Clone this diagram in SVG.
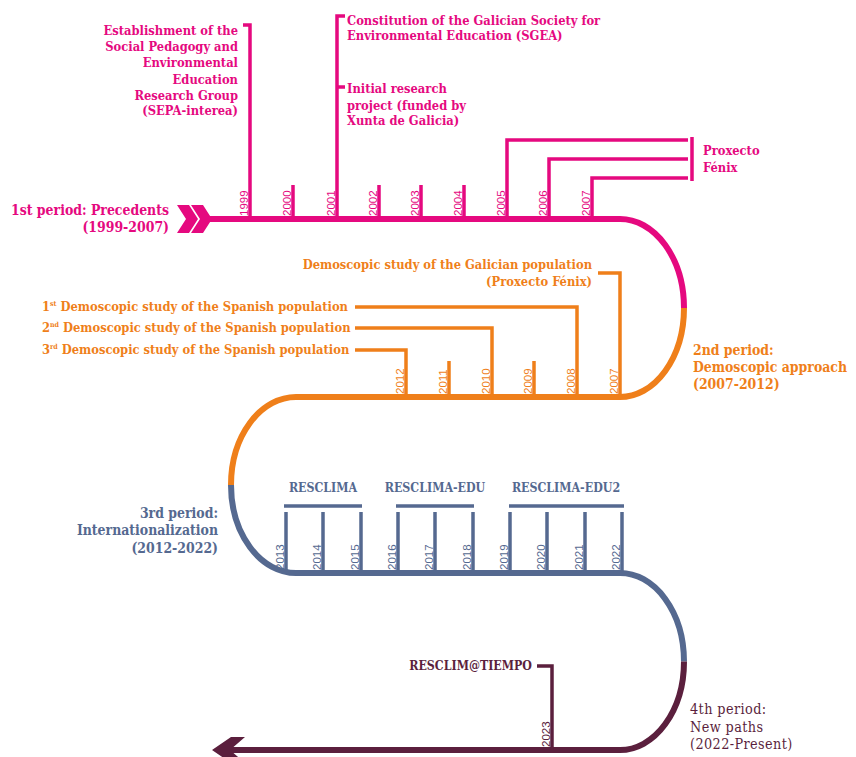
<svg xmlns="http://www.w3.org/2000/svg" width="856" height="757" viewBox="0 0 856 757">
<style>
.t{font-family:"DejaVu Serif Condensed","DejaVu Serif",serif;font-weight:bold;font-stretch:condensed;font-size:12.8px}
.pl{font-family:"DejaVu Serif Condensed","DejaVu Serif",serif;font-weight:bold;font-stretch:condensed;font-size:13.9px}
.pr{font-family:"DejaVu Serif Condensed","DejaVu Serif",serif;font-weight:bold;font-stretch:condensed;font-size:12.3px}
.yr{font-family:"Liberation Sans",Arial,sans-serif;font-size:11.5px}
.e{text-anchor:end}
.fp{fill:#E5097F}.fo{fill:#EF7F1A}.fb{fill:#556990}.fm{fill:#5B1F3D}
.main{fill:none;stroke-width:6}
.ld{fill:none;stroke-width:3.5}
.sp{stroke:#E5097F}.so{stroke:#EF7F1A}.sb{stroke:#556990}.sm{stroke:#5B1F3D}
</style>
<g id="connectors">
<path class="main sp" d="M205,219 H620 A64,89 0 0 1 684,308"/>
<path class="main so" d="M684,308 A64,89 0 0 1 620,397 H296 A65,88 0 0 0 231,485"/>
<path class="main sb" d="M231,485 A65,88 0 0 0 296,573 H620 A64,88.5 0 0 1 684,661.5"/>
<path class="main sm" d="M684,661.5 A64,88.5 0 0 1 620,750 H230"/>
<polygon class="fp" points="177,205 189,205 198,219 189,233 177,233 186,219"/>
<polygon class="fp" points="191,205 203,205 212,219 203,233 191,233 200,219"/>
<polygon class="fm" points="212,750 231,737 245,737 230,750 245,763 231,763"/>
</g>
<g id="period1">
<text class="pl fp e" x="169" y="215">1st period: Precedents</text>
<text class="pl fp e" x="169" y="232">(1999-2007)</text>
</g>
<g id="ticks1">
<path class="ld sp" d="M293,185 V219 M379,185 V219 M421,185 V219 M464,185 V219"/>
<g class="yr fp">
<text transform="translate(248,216) rotate(-90)">1999</text>
<text transform="translate(291,216) rotate(-90)">2000</text>
<text transform="translate(335,216) rotate(-90)">2001</text>
<text transform="translate(377,216) rotate(-90)">2002</text>
<text transform="translate(419,216) rotate(-90)">2003</text>
<text transform="translate(462,216) rotate(-90)">2004</text>
<text transform="translate(505,216) rotate(-90)">2005</text>
<text transform="translate(547,216) rotate(-90)">2006</text>
<text transform="translate(590,216) rotate(-90)">2007</text>
</g>
</g>
<g id="sepa">
<path class="ld sp" d="M243,25 H250 V219"/>
<text class="t fp e" x="238"><tspan x="238" y="35">Establishment of the</tspan><tspan x="238" y="51">Social Pedagogy and</tspan><tspan x="238" y="67">Environmental</tspan><tspan x="238" y="83.5">Education</tspan><tspan x="238" y="99.5">Research Group</tspan><tspan x="238" y="115">(SEPA-interea)</tspan></text>
</g>
<g id="sgea">
<path class="ld sp" d="M345,16 H337 V219 M337,87 H345"/>
<text class="t fp" x="347"><tspan x="347" y="24.5">Constitution of the Galician Society for</tspan><tspan x="347" y="40">Environmental Education (SGEA)</tspan></text>
<text class="t fp" x="347"><tspan x="347" y="93">Initial research</tspan><tspan x="347" y="109.5">project (funded by</tspan><tspan x="347" y="125">Xunta de Galicia)</tspan></text>
</g>
<g id="fenix">
<path class="ld sp" d="M507,219 V140 H688 M549,219 V159 H688 M592,219 V178 H688 M692,137 V181"/>
<text class="t fp"><tspan x="703" y="155">Proxecto</tspan><tspan x="703" y="171.5">Fénix</tspan></text>
</g>
<g id="period2">
<text class="pl fo"><tspan x="693" y="355">2nd period:</tspan><tspan x="693" y="372">Demoscopic approach</tspan><tspan x="693" y="389">(2007-2012)</tspan></text>
</g>
<g id="ticks2">
<path class="ld so" d="M534,397 V361 M449,397 V361"/>
<g class="yr fo">
<text transform="translate(404,394) rotate(-90)">2012</text>
<text transform="translate(447,394) rotate(-90)">2011</text>
<text transform="translate(490,394) rotate(-90)">2010</text>
<text transform="translate(532,394) rotate(-90)">2009</text>
<text transform="translate(575,394) rotate(-90)">2008</text>
<text transform="translate(618,394) rotate(-90)">2007</text>
</g>
</g>
<g id="galician">
<path class="ld so" d="M620,397 V273 H598"/>
<text class="t fo e"><tspan x="592" y="269">Demoscopic study of the Galician population</tspan><tspan x="592" y="286">(Proxecto Fénix)</tspan></text>
</g>
<g id="spanish1">
<path class="ld so" d="M577,397 V307 H355"/>
<text class="t fo" x="42" y="311">1<tspan font-size="7" dy="-5">st</tspan><tspan dy="5"> Demoscopic study of the Spanish population</tspan></text>
</g>
<g id="spanish2">
<path class="ld so" d="M492,397 V328 H355"/>
<text class="t fo" x="42" y="332">2<tspan font-size="7" dy="-5">nd</tspan><tspan dy="5"> Demoscopic study of the Spanish population</tspan></text>
</g>
<g id="spanish3">
<path class="ld so" d="M406,397 V350 H355"/>
<text class="t fo" x="42" y="354">3<tspan font-size="7" dy="-5">rd</tspan><tspan dy="5"> Demoscopic study of the Spanish population</tspan></text>
</g>
<g id="period3">
<text class="pl fb e"><tspan x="218" y="518">3rd period:</tspan><tspan x="218" y="535">Internationalization</tspan><tspan x="218" y="553">(2012-2022)</tspan></text>
</g>
<g id="ticks3">
<path class="ld sb" d="M286,573 V512 M323,573 V512 M361,573 V512 M398,573 V512 M435,573 V512 M473,573 V512 M510,573 V512 M547,573 V512 M585,573 V512 M622,573 V512"/>
<g class="yr fb">
<text transform="translate(284,570) rotate(-90)">2013</text>
<text transform="translate(321,570) rotate(-90)">2014</text>
<text transform="translate(359,570) rotate(-90)">2015</text>
<text transform="translate(396,570) rotate(-90)">2016</text>
<text transform="translate(433,570) rotate(-90)">2017</text>
<text transform="translate(471,570) rotate(-90)">2018</text>
<text transform="translate(508,570) rotate(-90)">2019</text>
<text transform="translate(545,570) rotate(-90)">2020</text>
<text transform="translate(583,570) rotate(-90)">2021</text>
<text transform="translate(620,570) rotate(-90)">2022</text>
</g>
</g>
<g id="resclima">
<path class="ld sb" d="M284,506 H362"/>
<text class="pr fb" x="323" y="492" text-anchor="middle">RESCLIMA</text>
</g>
<g id="resclima-edu">
<path class="ld sb" d="M396,506 H474"/>
<text class="pr fb" x="435" y="492" text-anchor="middle">RESCLIMA-EDU</text>
</g>
<g id="resclima-edu2">
<path class="ld sb" d="M509,506 H624"/>
<text class="pr fb" x="566" y="492" text-anchor="middle">RESCLIMA-EDU2</text>
</g>
<g id="period4">
<text class="pl fm" style="font-weight:normal;font-size:14.3px;letter-spacing:0.4px"><tspan x="690" y="714">4th period:</tspan><tspan x="690" y="732">New paths</tspan><tspan x="690" y="749">(2022-Present)</tspan></text>
</g>
<g id="resclimtiempo">
<path class="ld sm" d="M552,750 V666 H537"/>
<text class="pr fm e" x="532" y="670">RESCLIM@TIEMPO</text>
<text class="yr fm" transform="translate(550,747) rotate(-90)">2023</text>
</g>
</svg>
